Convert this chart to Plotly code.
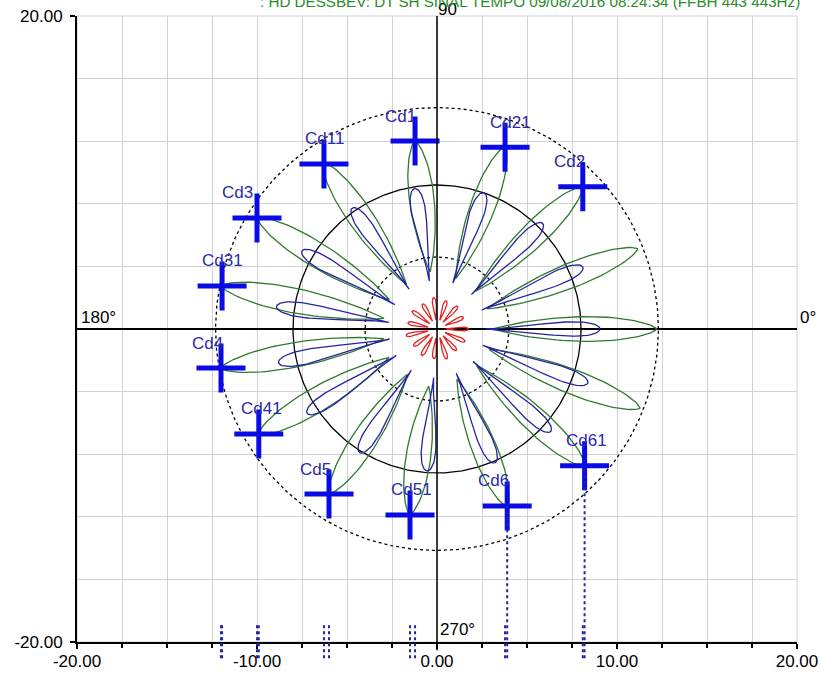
import numpy as np
import plotly.graph_objects as go

# ---------------- data ----------------
x_tick_vals = [-20, -10, 0, 10, 20]
x_tick_text = ["-20.00", "-10.00", "0.00", "10.00", "20.00"]
y_tick_vals = [-20, 20]
y_tick_text = ["-20.00", "20.00"]

# reference circles (polar magnitude units)
circle_radii = [4.0, 8.0, 12.3]
circle_dash = ["dot", "solid", "dot"]

# markers (polar frame, x right / y up, equal scaling)
marker_names = ["Cd1", "Cd11", "Cd21", "Cd2", "Cd3", "Cd31",
                "Cd4", "Cd41", "Cd5", "Cd51", "Cd6", "Cd61"]
marker_x = [-1.22, -6.28, 3.78, 8.10, -10.00, -11.94,
            -12.00, -9.90, -6.00, -1.50, 3.90, 8.20]
marker_y = [10.44, 9.17, 10.10, 7.90, 6.17, 2.39,
            -2.17, -5.83, -9.17, -10.33, -9.83, -7.60]
drop_line_markers = ["Cd6", "Cd61"]

# green lobes: direction (deg), outer tip radius, inner radius
green_angle = [0, 21.8, 44.3, 69.5, 96.7, 124.4, 148.3, 168.7,
               190.3, 210.5, 236.8, 261.7, 291.6, 317.2, 338.7]
green_tip = [12.2, 12.0, 11.3, 10.8, 10.5, 11.2, 11.7, 12.2,
             12.2, 11.5, 10.9, 10.4, 10.6, 11.2, 12.1]
green_inner = [3.1, 3.0, 3.0, 3.0, 3.2, 3.0, 3.1, 3.0,
               3.0, 3.1, 3.0, 3.2, 3.0, 3.0, 3.1]

# blue lobes
blue_angle = [0, 23, 45, 71, 99, 125, 150, 172,
              192, 213, 238, 266, 293.4, 318, 340.3]
blue_tip = [9.05, 8.8, 8.3, 8.0, 7.9, 8.2, 8.66, 9.0,
            9.0, 8.6, 8.1, 7.9, 8.1, 8.5, 8.9]
blue_inner = [2.7] * 15

# red star
red_angle = [0, 24, 48, 72, 96, 120, 144, 168,
             192, 216, 240, 264, 288, 312, 336]
red_tip = [1.75, 1.6, 1.7, 1.65, 1.75, 1.6, 1.7, 1.65,
           1.75, 1.6, 1.7, 1.65, 1.75, 1.6, 1.7]
red_inner = [0.5] * 15

title_text = ": HD DESSBEV: DT SH SINAL TEMPO 09/08/2016 08:24:34 (FFBH 443 443Hz)"

# ---------------- geometry / style ----------------
W, H = 821, 676
ML, MR, MT, MB = 77, 24, 16, 34
plot_w = W - ML - MR
plot_h = H - MT - MB
px_per_unit = plot_w / 40.0
R2 = (plot_h / 2.0) / px_per_unit   # y2 half range so polar frame is round

GREEN = "#2f7a2f"
BLUE = "#2424a0"
RED = "#e02424"
MARK = "#0a0ae6"
LABEL = "#2a2aa8"
GRID = "#d2d2d2"
FONT = "Liberation Sans, Arial, sans-serif"


def lobe(angle_deg, r_in, r_out, half_w, k, m, n=90):
    t = np.linspace(0, 2 * np.pi, n)
    u = (1 - np.cos(t)) / 2
    s = r_in + (r_out - r_in) * u
    p = half_w * np.sin(t) * u ** k * np.abs(np.sin(t)) ** m
    a = np.radians(angle_deg)
    return s * np.cos(a) - p * np.sin(a), s * np.sin(a) + p * np.cos(a)


def lobes(angles, tips, inners, half_w, k, m):
    xs, ys = [], []
    for a, ro, ri in zip(angles, tips, inners):
        x, y = lobe(a, ri, ro, half_w, k, m)
        xs += list(x) + [None]
        ys += list(y) + [None]
    return xs, ys


fig = go.Figure()

# circles
th = np.linspace(0, 2 * np.pi, 361)
for r, d in zip(circle_radii, circle_dash):
    fig.add_trace(go.Scatter(x=r * np.cos(th), y=r * np.sin(th), yaxis="y2",
                             mode="lines", line=dict(color="black", width=1.3, dash=d),
                             hoverinfo="skip", showlegend=False))

gx, gy = lobes(green_angle, green_tip, green_inner, 0.8, 0.25, 0.35)
fig.add_trace(go.Scatter(x=gx, y=gy, yaxis="y2", mode="lines",
                         line=dict(color=GREEN, width=1.3), showlegend=False))
bx, by = lobes(blue_angle, blue_tip, blue_inner, 0.65, 1.2, 0.0)
fig.add_trace(go.Scatter(x=bx, y=by, yaxis="y2", mode="lines",
                         line=dict(color=BLUE, width=1.3), showlegend=False))
rx, ry = lobes(red_angle, red_tip, red_inner, 0.16, 1.0, 0.0)
fig.add_trace(go.Scatter(x=rx, y=ry, yaxis="y2", mode="lines",
                         line=dict(color=RED, width=1.3), showlegend=False))

# markers
fig.add_trace(go.Scatter(x=marker_x, y=marker_y, yaxis="y2", mode="markers",
                         marker=dict(symbol="cross-thin", size=35,
                                     line=dict(color=MARK, width=5)),
                         showlegend=False))


def y2_to_paper(v):
    return (v + R2) / (2 * R2)


shapes = [
    # grey frame (top / right edges of the grid)
    dict(type="rect", xref="paper", yref="paper", x0=0, x1=1, y0=0, y1=1,
         line=dict(color=GRID, width=1), layer="below"),
    # axis through x = 0, extending slightly beyond the plot area
    dict(type="line", xref="x", yref="paper", x0=0, x1=0,
         y0=-0.013, y1=1.0, line=dict(color="black", width=1.5), layer="above"),
]
# dotted projections of markers on the x axis
for name, mx, my in zip(marker_names, marker_x, marker_y):
    top = y2_to_paper(my) if name in drop_line_markers else 0.031
    shapes.append(dict(type="line", xref="x", yref="paper", x0=mx, x1=mx,
                       y0=-0.026, y1=top,
                       line=dict(color=BLUE, width=2, dash="dot"), layer="above"))

label_dx = {"Cd1": -15, "Cd11": 1, "Cd21": 5, "Cd2": -13, "Cd3": -20, "Cd31": 0,
            "Cd4": -14, "Cd41": 3, "Cd5": -14, "Cd51": 1, "Cd6": -14, "Cd61": 2}

ann = []
for name, mx, my in zip(marker_names, marker_x, marker_y):
    ann.append(dict(x=mx, y=my, xref="x", yref="y2", text=name, showarrow=False,
                    xanchor="center", yanchor="middle", xshift=label_dx[name], yshift=25,
                    font=dict(family=FONT, size=17, color=LABEL)))

ann += [
    dict(x=-20, y=0, xref="x", yref="y", text="180°", showarrow=False,
         xanchor="left", yanchor="bottom", xshift=2, yshift=0,
         font=dict(family=FONT, size=17, color="black")),
    dict(x=1, y=0, xref="paper", yref="y", text="0°", showarrow=False,
         xanchor="left", yanchor="bottom", xshift=1, yshift=0,
         font=dict(family=FONT, size=17, color="black")),
    dict(x=0, y=1 + 7 / plot_h, xref="x", yref="paper", text="90", showarrow=False,
         xanchor="left", yanchor="middle", xshift=-1,
         font=dict(family=FONT, size=17, color="black")),
    dict(x=0, y=-20, xref="x", yref="y", text="270°", showarrow=False,
         xanchor="left", yanchor="bottom", xshift=1, yshift=1,
         font=dict(family=FONT, size=17, color="black")),
    dict(x=(258 - ML) / plot_w, y=1 + (MT - 1) / plot_h, xref="paper", yref="paper",
         text=title_text, showarrow=False, xanchor="left", yanchor="middle",
         font=dict(family=FONT, size=15.2, color="#2a8a2a")),
]

fig.update_layout(
    width=W, height=H,
    margin=dict(l=ML, r=MR, t=MT, b=MB, pad=0, autoexpand=False),
    paper_bgcolor="white", plot_bgcolor="white",
    showlegend=False,
    font=dict(family=FONT, size=17, color="black"),
    xaxis=dict(range=[-20, 20], tickvals=x_tick_vals, ticktext=x_tick_text,
               automargin=False,
               ticks="outside", ticklen=5, tickwidth=1.5, tickcolor="black",
               ticklabelstandoff=-2,
               showline=True, linecolor="black", linewidth=2,
               showgrid=True, gridcolor=GRID, gridwidth=1,
               zeroline=False,
               minor=dict(dtick=2.5, tick0=0, ticks="outside", ticklen=4,
                          tickcolor="black", tickwidth=1.5,
                          showgrid=True, gridcolor=GRID, gridwidth=1),
               tickfont=dict(family=FONT, size=17, color="black"),
               fixedrange=True),
    yaxis=dict(range=[-20, 20], tickvals=y_tick_vals, ticktext=y_tick_text,
               automargin=False,
               ticks="outside", ticklen=5, tickwidth=1.5, tickcolor="black",
               ticklabelstandoff=4,
               showline=True, linecolor="black", linewidth=2,
               showgrid=True, gridcolor=GRID, gridwidth=1,
               zeroline=True, zerolinecolor="black", zerolinewidth=1.5,
               minor=dict(dtick=4, tick0=0, ticks="",
                          showgrid=True, gridcolor=GRID, gridwidth=1),
               tickfont=dict(family=FONT, size=17, color="black"),
               fixedrange=True),
    yaxis2=dict(range=[-R2, R2], overlaying="y", side="right", visible=False,
                automargin=False,
                showgrid=False, zeroline=False, fixedrange=True),
    shapes=shapes,
    annotations=ann,
)

fig.write_html("out.html",
               config={"displayModeBar": False},
               post_script="document.body.style.margin='0px';"
                           "document.body.style.overflow='hidden';")
